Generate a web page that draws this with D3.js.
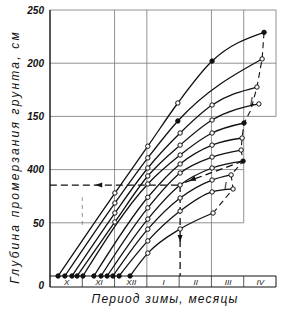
<!DOCTYPE html>
<html>
<head>
<meta charset="utf-8">
<script src="https://cdn.jsdelivr.net/npm/d3@7"></script>
<style>
body { margin: 0; background: #fff; }
text { font-family: "Liberation Sans", Arial, sans-serif; font-style: italic; fill: #111; }
</style>
</head>
<body>
<script>
// months of the winter period (strip under the plot)
var months = ["X", "XI", "XII", "I", "II", "III", "IV"];
var yTicks = [0, 50, 100, 150, 200, 250];
var yTickLabels = ["0", "50", "400", "150", "200", "250"];

// freezing depth curves: [month, depth cm]
var curve1 = [[0.25, 0], [2.01, 78], [3.03, 122], [3.96, 162.6], [5.02, 202], [6.63, 229]];
var curve2 = [[0.46, 0], [2.01, 68.6], [3.03, 111], [3.96, 145.7], [6.57, 204]];
var curve3 = [[0.68, 0], [2.01, 59.2], [3.03, 101.5], [4.03, 134.4], [5.02, 160.7], [6.41, 177.6]];
var curve4 = [[0.84, 0], [2.01, 50.8], [3.03, 94], [4.03, 123], [5.02, 146.6], [6.47, 161.7]];
var curve5 = [[1.02, 0], [3.03, 86.5], [4.03, 113.7], [5.02, 134.4], [6.01, 143.8]];
var curve6 = [[1.36, 0], [3.03, 74], [4.03, 105.3], [5.02, 123], [5.95, 129.7]];
var curve7 = [[1.58, 0], [3.03, 64], [4.03, 96.8], [5.02, 111.8], [5.92, 118.4]];
var curve8 = [[1.77, 0], [3.03, 53.5], [4.03, 85.5], [5.02, 101.5], [5.98, 108]];
var curve9 = [[1.95, 0], [3.03, 44], [4.03, 73.3], [5.02, 90.2], [5.61, 95]];
var curve10 = [[2.14, 0], [3.03, 33], [4.03, 61], [5.02, 79], [5.67, 81.8]];
var curve11 = [[2.48, 0], [3.03, 21.5], [4.03, 44.2], [5.05, 59.2]];
var curves = [curve1, curve2, curve3, curve4, curve5, curve6, curve7, curve8, curve9, curve10, curve11];

// dashed line through the curve ends, and the reading lines
var envelope = [[6.63, 229], [6.57, 204], [6.41, 177.6], [6.22, 156], [6.01, 143.8], [5.95, 129.7],
                [5.92, 118.4], [5.98, 108], [5.61, 95], [5.67, 81.8], [5.05, 59.2]];
var readDiag = [[5.98, 108], [3.96, 85.5]];
var readH = [[3.96, 85.5], [0, 85.5]];
var readV = [[4.03, 85.5], [4.03, 0]];

var w = 282, h = 312;
var x = d3.scaleLinear().domain([0, 7]).range([50, 276]);
var y = d3.scaleLinear().domain([0, 250]).range([276, 10]);
var stripBottom = 287;

var svg = d3.select("body").append("svg")
    .attr("width", w)
    .attr("height", h);

// grid
var grid = svg.append("g").attr("stroke", "#777").attr("stroke-width", 0.8).attr("fill", "none");
[[50, 6], [100, 6], [150, 7], [200, 7], [250, 7]].forEach(function(g) {
  grid.append("line")
      .attr("x1", x(0)).attr("x2", x(g[1]))
      .attr("y1", y(g[0])).attr("y2", y(g[0]));
});
[[2, 0, 250], [3, 0, 250], [5, 0, 250], [6, 50, 250], [7, 150, 250]].forEach(function(g) {
  grid.append("line")
      .attr("x1", x(g[0])).attr("x2", x(g[0]))
      .attr("y1", y(g[1])).attr("y2", y(g[2]));
});
grid.append("line")
    .attr("x1", x(1)).attr("x2", x(1))
    .attr("y1", y(48)).attr("y2", y(74))
    .attr("stroke-dasharray", "4,4");

// month strip
var strip = svg.append("g").attr("stroke", "#111").attr("fill", "none");
strip.append("line").attr("x1", x(0)).attr("x2", x(7)).attr("y1", y(0)).attr("y2", y(0)).attr("stroke-width", 1);
strip.append("line").attr("x1", x(0)).attr("x2", x(7)).attr("y1", stripBottom).attr("y2", stripBottom).attr("stroke-width", 1.2);
d3.range(1, 8).forEach(function(m) {
  strip.append("line")
      .attr("x1", x(m)).attr("x2", x(m))
      .attr("y1", y(0)).attr("y2", stripBottom)
      .attr("stroke-width", m == 7 ? 1 : 0.7);
});
svg.append("g")
    .attr("transform", "translate(0," + (y(0) - 1) + ")")
    .call(d3.axisBottom(x)
          .tickValues(d3.range(7).map(function(i) { return i + 0.5; }))
          .tickSize(0)
          .tickFormat(function(d, i) { return months[i]; }))
    .call(function(g) { g.select(".domain").remove(); })
    .selectAll("text")
    .attr("font-family", "DejaVu Serif, serif")
    .attr("font-style", "italic")
    .attr("font-size", 8)
    .attr("dy", "0.85em");

// y axis
svg.append("line")
    .attr("x1", x(0)).attr("x2", x(0))
    .attr("y1", y(250)).attr("y2", stripBottom)
    .attr("stroke", "#111").attr("stroke-width", 1.4);
svg.append("g")
    .attr("transform", "translate(" + (x(0) - 3) + ",0)")
    .call(d3.axisLeft(y)
          .tickValues(yTicks)
          .tickSize(0)
          .tickFormat(function(d, i) { return yTickLabels[i]; }))
    .call(function(g) { g.select(".domain").remove(); })
    .selectAll("text")
    .attr("font-size", 10)
    .attr("font-weight", "bold")
    .attr("dy", function(d) { return d == 0 ? "1.25em" : "0.32em"; });

// dashed reading lines
var line = d3.line()
    .x(function(d) { return x(d[0]); })
    .y(function(d) { return y(d[1]); });

svg.append("path")
    .attr("d", line(envelope))
    .attr("fill", "none").attr("stroke", "#111").attr("stroke-width", 1.1)
    .attr("stroke-dasharray", "6,4");
[readDiag, readH, readV].forEach(function(r) {
  svg.append("path")
      .attr("d", line(r))
      .attr("fill", "none").attr("stroke", "#111").attr("stroke-width", 1.3)
      .attr("stroke-dasharray", "7,4");
});

function arrowHead(px, py, angle) {
  svg.append("path")
      .attr("d", "M0,0L-7,-2.5L-7,2.5Z")
      .attr("transform", "translate(" + px + "," + py + ")rotate(" + angle + ")")
      .attr("fill", "#111");
}
arrowHead(x(1.4), y(85.5), 180);
arrowHead(x(4.03), y(32), 90);
var da = Math.atan2(y(readDiag[1][1]) - y(readDiag[0][1]), x(readDiag[1][0]) - x(readDiag[0][0])) * 180 / Math.PI;
arrowHead(x(4.3), y(89.4), da);

// curves
var curveLine = d3.line()
    .curve(d3.curveMonotoneX)
    .x(function(d) { return x(d[0]); })
    .y(function(d) { return y(d[1]); });

svg.append("g").selectAll("path")
    .data(curves)
    .enter()
    .append("path")
    .attr("d", curveLine)
    .attr("fill", "none")
    .attr("stroke", "#111")
    .attr("stroke-width", 1.3);

var filled = ["0:4", "0:5", "1:3", "4:4", "7:4"];
curves.forEach(function(c, ci) {
  svg.append("g").selectAll("circle")
      .data(c)
      .enter()
      .append("circle")
      .attr("cx", function(d) { return x(d[0]); })
      .attr("cy", function(d) { return y(d[1]); })
      .attr("r", 2.2)
      .attr("fill", function(d, i) { return (i == 0 || filled.indexOf(ci + ":" + i) >= 0) ? "#111" : "#fff"; })
      .attr("stroke", "#111")
      .attr("stroke-width", 1);
});

// small "L" marks beside two curve ends
[curve4[curve4.length - 1], curve10[curve10.length - 1]].forEach(function(p) {
  svg.append("text")
      .attr("x", x(p[0]) - 9)
      .attr("y", y(p[1]) + 1)
      .attr("font-size", 10)
      .text("L");
});

// axis titles
svg.append("text")
    .attr("x", 165)
    .attr("y", 303)
    .attr("text-anchor", "middle")
    .attr("font-size", 12)
    .attr("letter-spacing", 1.2)
    .text("Период зимы, месяцы");

svg.append("text")
    .attr("transform", "translate(19,157)rotate(-90)")
    .attr("text-anchor", "middle")
    .attr("font-size", 12)
    .attr("letter-spacing", 2.2)
    .text("Глубина промерзания грунта, см");
</script>
</body>
</html>
